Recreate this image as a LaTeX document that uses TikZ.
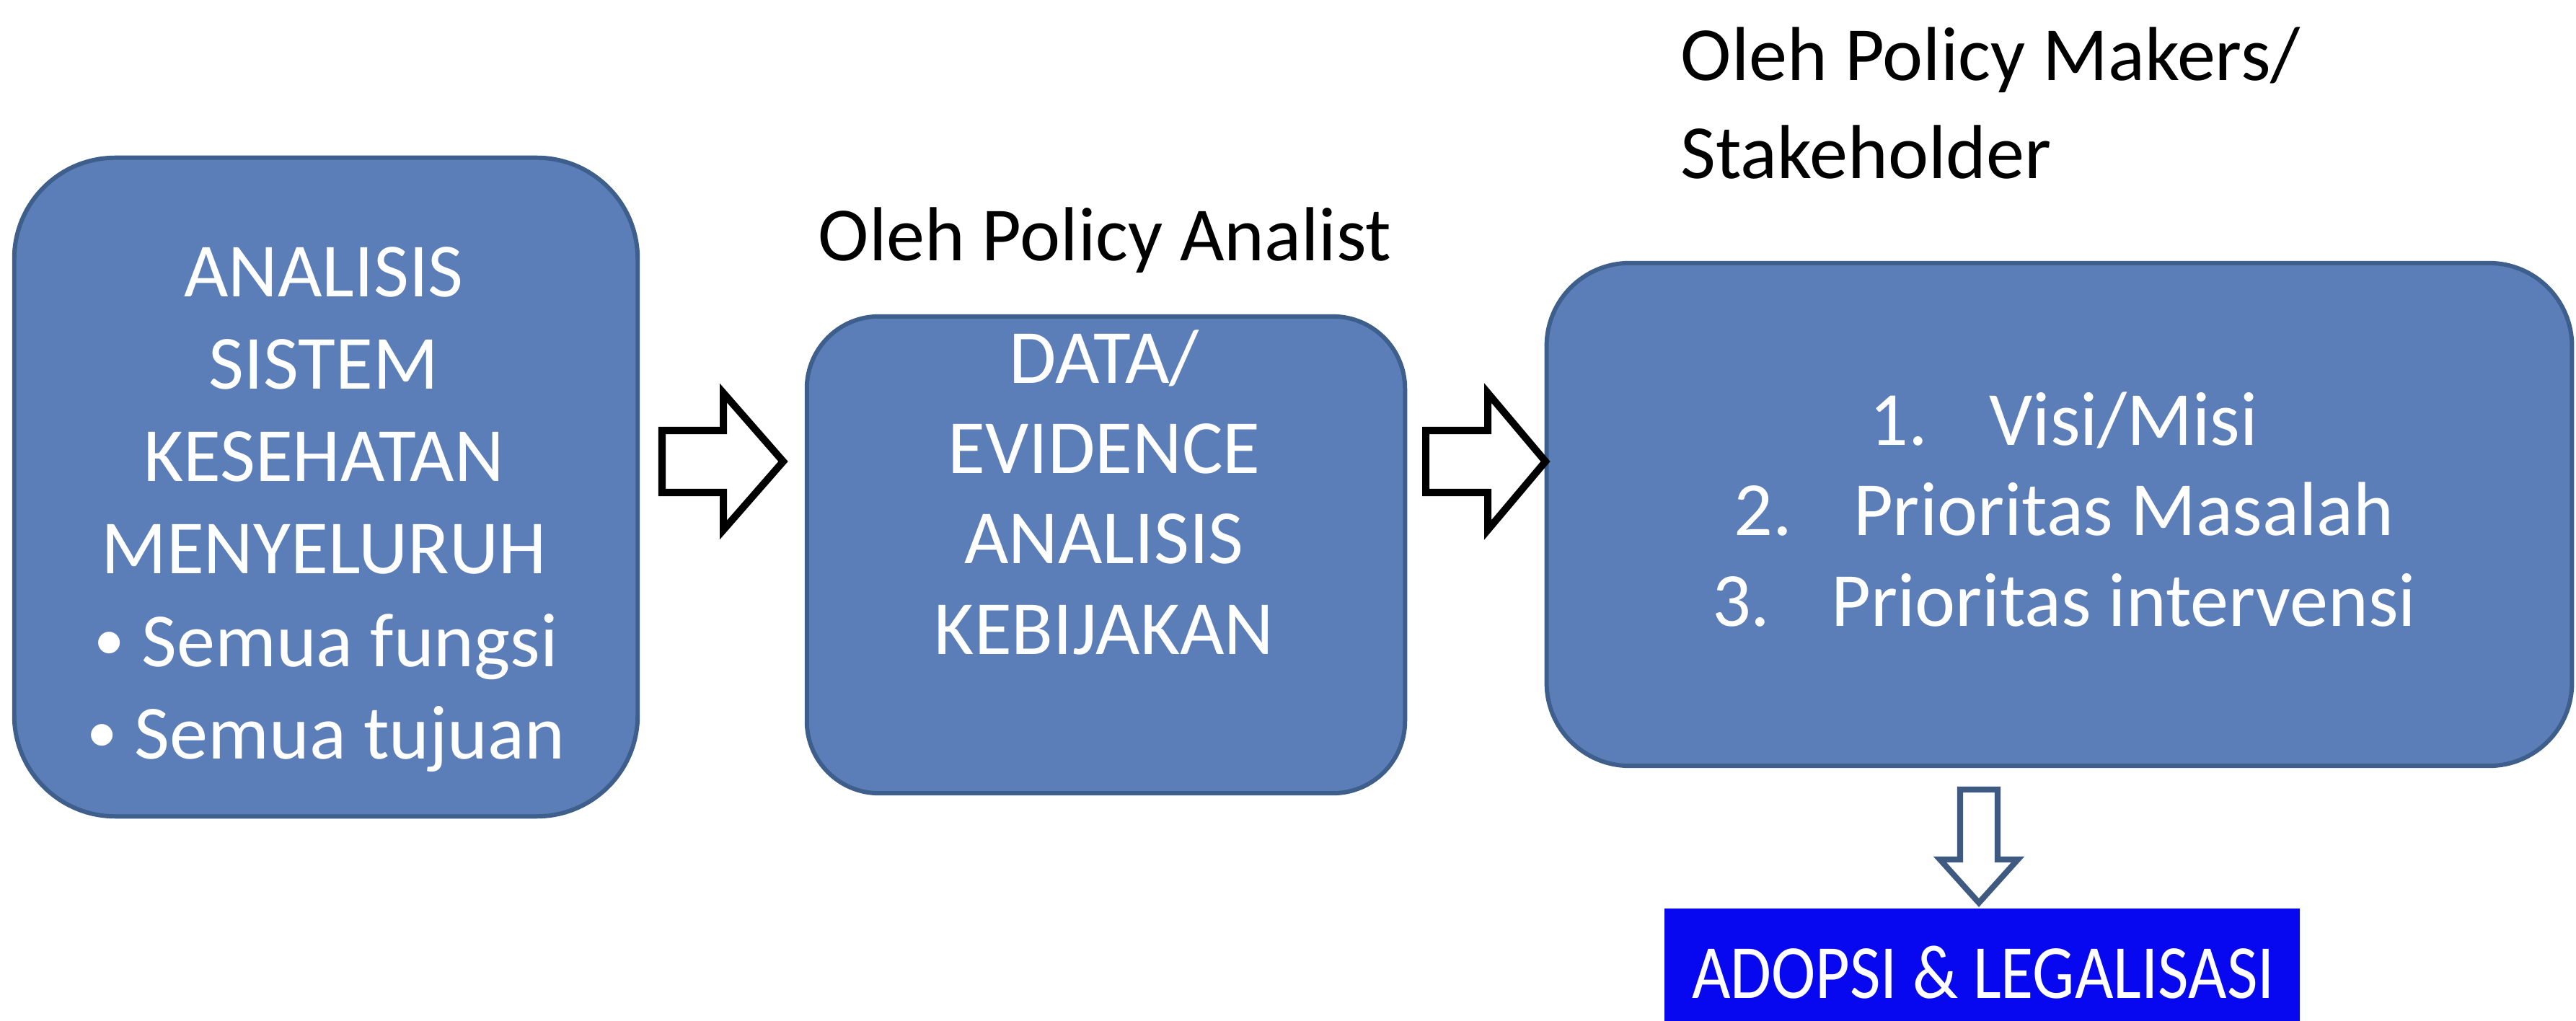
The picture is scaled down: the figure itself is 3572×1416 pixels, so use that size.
\documentclass[tikz,border=0pt]{standalone}
\usepackage{fontspec}
\usepackage{graphicx}
\setmainfont{Carlito}
\definecolor{boxfill}{RGB}{91,126,185}
\definecolor{boxedge}{RGB}{62,94,140}
\definecolor{adopsi}{RGB}{8,8,240}
\definecolor{downedge}{RGB}{62,90,128}
\newcommand{\smallbul}{\raisebox{0.08em}{\scalebox{0.8}{•}}}
\begin{document}
\begin{tikzpicture}[x=0.01cm,y=-0.01cm,
  panel/.style={draw=boxedge,line width=1.7pt,fill=boxfill,rectangle,inner sep=0pt},
  intext/.style={text=white,anchor=base,inner sep=0pt,font=\fontsize{30.2pt}{38pt}\selectfont},
  label/.style={text=black,anchor=base west,inner sep=0pt,font=\fontsize{30.2pt}{38pt}\selectfont},
  blockarrow/.style={draw=black,fill=white,line width=2.85pt,line join=miter},
  downarrow/.style={draw=downedge,fill=white,line width=2.3pt,line join=miter}]
\useasboundingbox (0,0) rectangle (3572,1416);
\fill[white] (0,0) rectangle (3572,1416);

% boxes
\node[panel,rounded corners=1.4cm,minimum width=8.64cm,minimum height=9.13cm] (box1) at (452,675.5) {};
\node[panel,rounded corners=1.0cm,minimum width=8.29cm,minimum height=6.61cm] (box2) at (1533.5,769.5) {};
\node[panel,rounded corners=1.15cm,minimum width=14.21cm,minimum height=6.97cm] (box3) at (2855.5,713.5) {};
\node[fill=adopsi,rectangle,inner sep=0pt,minimum width=8.81cm,minimum height=1.56cm] (box4) at (2748.5,1338) {};

% box 1 text
\node[intext] (b1a) at (449,412) {ANALISIS};
\node[intext] (b1b) at (449,540) {SISTEM};
\node[intext] (b1c) at (449,668) {KESEHATAN};
\node[intext] (b1d) at (449,796) {MENYELURUH};
\node[intext] (b1e) at (452,924) {\smallbul\ Semua fungsi};
\node[intext] (b1f) at (452,1052) {\smallbul\ Semua tujuan};

% box 2 text
\node[intext] (b2a) at (1531,532) {DATA/};
\node[intext] (b2b) at (1531,657) {EVIDENCE};
\node[intext] (b2c) at (1531,782) {ANALISIS};
\node[intext] (b2d) at (1531,907) {KEBIJAKAN};

% box 3 text
\node[intext] (b3a) at (2862,618) {1.\hspace{0.8em}Visi/Misi};
\node[intext] (b3b) at (2862,743) {2.\hspace{0.8em}Prioritas Masalah};
\node[intext] (b3c) at (2862,868) {3.\hspace{0.8em}Prioritas intervensi};

% box 4 text
\node[intext] (b4a) at (2750,1384) {\scalebox{0.87}[1]{ADOPSI \& LEGALISASI}};

% labels
\node[label] (lab1) at (1134,362) {Oleh Policy Analist};
\node[label] (lab2) at (2330,112) {Oleh Policy Makers/};
\node[label] (lab3) at (2330,248) {Stakeholder};

% block arrows
\draw[blockarrow] (918,597) -- (1003,597) -- (1003,545) -- (1086,640) -- (1003,735) -- (1003,683) -- (918,683) -- cycle;
\draw[blockarrow] (1977,597) -- (2063,597) -- (2063,545) -- (2143,640) -- (2063,735) -- (2063,683) -- (1977,683) -- cycle;
\draw[downarrow] (2718,1095) -- (2770,1095) -- (2770,1192) -- (2798,1192) -- (2744,1252) -- (2690,1192) -- (2718,1192) -- cycle;
\end{tikzpicture}
\end{document}
